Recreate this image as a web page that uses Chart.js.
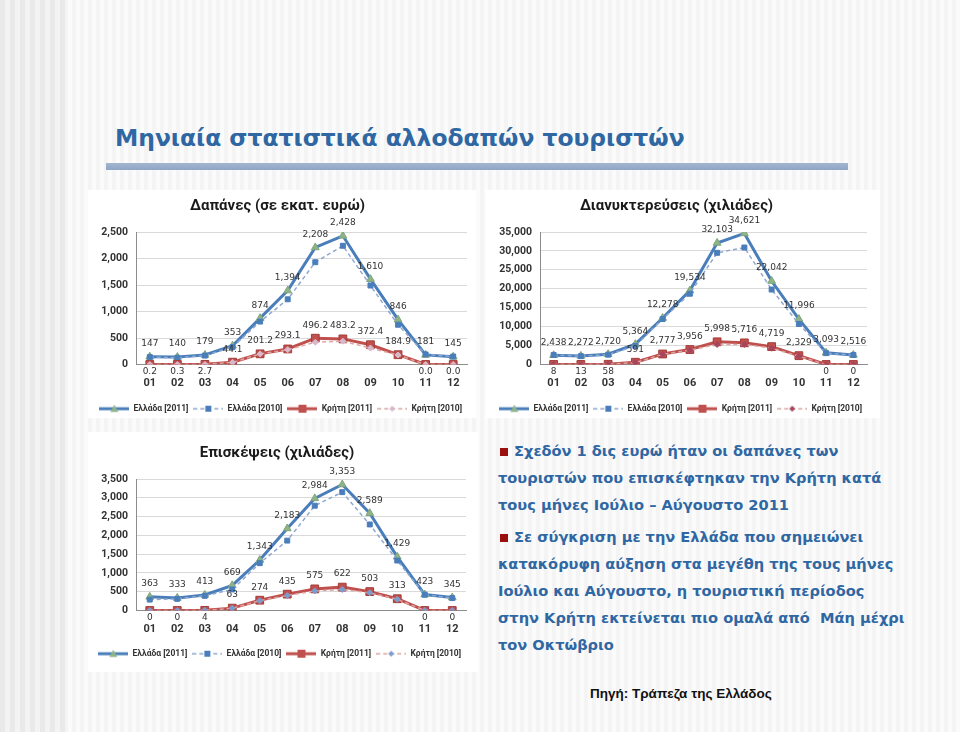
<!DOCTYPE html>
<html>
<head>
<meta charset="utf-8">
<script src="https://cdn.jsdelivr.net/npm/chart.js@4.4.1/dist/chart.umd.min.js"></script>
<style>
  body {
    margin: 0;
    width: 960px;
    height: 732px;
    overflow: hidden;
    position: relative;
    background: repeating-linear-gradient(90deg, #f4f4f4 0px, #f4f4f4 4px, #fbfbfb 4px, #fbfbfb 8px);
  }
  .leftband {
    position: absolute; left: 0; top: 0; width: 66px; height: 732px;
    background: repeating-linear-gradient(90deg, #e9e9e9 0px, #e9e9e9 5px, #f3f3f3 5px, #f3f3f3 10px);
  }
  .title {
    position: absolute; left: 115px; top: 123px;
    font: bold 23.4px "DejaVu Sans", sans-serif;
    color: #2f67a3; white-space: nowrap; line-height: 30px;
  }
  .bar {
    position: absolute; left: 106px; top: 163px; width: 742px; height: 7px;
    background: linear-gradient(#a3b6d0, #8ea5c5);
  }
  .panel { position: absolute; background: #fff; overflow: hidden; }
  .notes {
    position: absolute; left: 498px; top: 437px;
    font: bold 14.6px "DejaVu Sans", sans-serif;
    color: #2f67a3; line-height: 27px; white-space: nowrap;
  }
  .notes p { margin: 0 0 5px 0; }
  .sq { display: inline-block; width: 8px; height: 8px; background: #9b0f0f; margin: 0 6px 0 2px; }
  .src {
    position: absolute; left: 590px; top: 686px;
    font: bold 13.5px "Liberation Sans", Arial, sans-serif; color: #111;
  }
</style>
</head>
<body>
<div class="leftband"></div>
<div class="title">Μηνιαία στατιστικά αλλοδαπών τουριστών</div>
<div class="bar"></div>

<div class="panel" style="left:88px;top:190px;width:388px;height:228px"><canvas id="c1" width="388" height="228"></canvas></div>
<div class="panel" style="left:486px;top:190px;width:394px;height:228px"><canvas id="c2" width="394" height="228"></canvas></div>
<div class="panel" style="left:88px;top:432px;width:390px;height:240px"><canvas id="c3" width="390" height="240"></canvas></div>

<div class="notes">
  <p><span class="sq"></span>Σχεδόν 1 δις ευρώ ήταν οι δαπάνες των<br>τουριστών που επισκέφτηκαν την Κρήτη κατά<br>τους μήνες Ιούλιο – Αύγουστο 2011</p>
  <p><span class="sq"></span>Σε σύγκριση με την Ελλάδα που σημειώνει<br>κατακόρυφη αύξηση στα μεγέθη της τους μήνες<br>Ιούλιο και Αύγουστο, η τουριστική περίοδος<br>στην Κρήτη εκτείνεται πιο ομαλά από&nbsp; Μάη μέχρι<br>τον Οκτώβριο</p>
</div>
<div class="src">Πηγή: Τράπεζα της Ελλάδος</div>

<script>
// months
const months = ['01', '02', '03', '04', '05', '06', '07', '08', '09', '10', '11', '12'];
const seriesNames = ['Ελλάδα [2011]', 'Ελλάδα [2010]', 'Κρήτη [2011]', 'Κρήτη [2010]'];

// Δαπάνες (εκατ. ευρώ)
const spendGr2011 = [147, 140, 179, 353, 874, 1394, 2208, 2428, 1610, 846, 181, 145];
const spendGr2010 = [140, 128, 168, 330, 810, 1230, 1930, 2240, 1490, 750, 190, 150];
const spendCr2011 = [0.2, 0.3, 2.7, 44.1, 201.2, 293.1, 496.2, 483.2, 372.4, 184.9, 0.0, 0.0];
const spendCr2010 = [0, 0, 2, 40, 200, 280, 420, 440, 310, 180, 0, 0];

// Διανυκτερεύσεις (χιλιάδες)
const nightsGr2011 = [2438, 2272, 2720, 5364, 12278, 19534, 32103, 34621, 22042, 11996, 3093, 2516];
const nightsGr2010 = [2500, 2200, 2600, 4900, 12000, 18700, 29500, 30900, 19800, 10700, 3000, 2500];
const nightsCr2011 = [8, 13, 58, 591, 2777, 3956, 5998, 5716, 4719, 2329, 0, 0];
const nightsCr2010 = [0, 0, 50, 500, 2700, 3800, 5300, 5300, 4300, 2200, 0, 0];

// Επισκέψεις (χιλιάδες)
const visitsGr2011 = [363, 333, 413, 669, 1343, 2183, 2984, 3353, 2589, 1429, 423, 345];
const visitsGr2010 = [290, 310, 390, 560, 1260, 1860, 2790, 3150, 2290, 1330, 420, 330];
const visitsCr2011 = [0, 0, 4, 63, 274, 435, 575, 622, 503, 313, 0, 0];
const visitsCr2010 = [0, 0, 4, 60, 260, 400, 520, 560, 470, 300, 0, 0];

const BLUE = '#4a7ebb';
const RED = '#c0504d';
const ICON_W = 30;

// small legend sample: line with marker in the middle
function legendIcon(color, width, dash, marker, fill, r) {
    const c = document.createElement('canvas');
    c.width = ICON_W; c.height = 12;
    const g = c.getContext('2d');
    const m = ICON_W / 2;
    g.strokeStyle = color; g.lineWidth = width; g.setLineDash(dash);
    g.beginPath(); g.moveTo(0, 6); g.lineTo(ICON_W, 6); g.stroke();
    g.setLineDash([]);
    g.fillStyle = fill;
    g.beginPath();
    if (marker === 'triangle') { g.moveTo(m, 6 - r); g.lineTo(m + r, 6 + r * 0.8); g.lineTo(m - r, 6 + r * 0.8); }
    else if (marker === 'rect') { g.rect(m - r, 6 - r, 2 * r, 2 * r); }
    else { g.moveTo(m, 6 - r); g.lineTo(m + r, 6); g.lineTo(m, 6 + r); g.lineTo(m - r, 6); }
    g.closePath(); g.fill();
    return c;
}

const valueLabels = {
    id: 'valueLabels',
    afterDatasetsDraw(chart, args, opts) {
        const ctx = chart.ctx;
        const max = chart.scales.y.max;
        ctx.save();
        ctx.font = '9px "DejaVu Sans", sans-serif';
        ctx.fillStyle = '#333';
        ctx.textAlign = 'center';
        ctx.textBaseline = 'middle';
        [0, 2].forEach(di => {
            const meta = chart.getDatasetMeta(di);
            const vals = chart.data.datasets[di].data;
            meta.data.forEach((pt, i) => {
                const v = vals[i];
                const below = di === 2 && v < max * 0.01;
                const txt = (di === 2 && opts.decimals) ? v.toFixed(1) : v.toLocaleString('en-US');
                ctx.fillText(txt, pt.x, below ? pt.y + 7 : pt.y - 13);
            });
        });
        ctx.restore();
    }
};

function makeChart(id, title, series, yMax, yStep, axisW, crMarker, decimals, pad) {
    const icons = [
        legendIcon(BLUE, 3, [], 'triangle', '#8fb487', 4),
        legendIcon('#8ea8d0', 1.5, [4, 3], 'rect', BLUE, 3),
        legendIcon(RED, 3, [], 'rect', RED, 4),
        legendIcon('#dca6a4', 1.5, [4, 3], 'diamond', crMarker, 3)
    ];
    return new Chart(document.getElementById(id), {
        type: 'line',
        data: {
            labels: months,
            datasets: [{
                label: seriesNames[0], data: series[0], order: 4,
                borderColor: BLUE, borderWidth: 3, pointStyle: 'triangle',
                pointRadius: 4.5, pointBackgroundColor: '#8fb487', pointBorderColor: '#7ea57a', pointBorderWidth: 1
            }, {
                label: seriesNames[1], data: series[1], order: 3,
                borderColor: '#8ea8d0', borderWidth: 1.5, borderDash: [4, 3], pointStyle: 'rect',
                pointRadius: 3.5, pointBackgroundColor: BLUE, pointBorderColor: BLUE, pointBorderWidth: 1
            }, {
                label: seriesNames[2], data: series[2], order: 2,
                borderColor: RED, borderWidth: 3, pointStyle: 'rect',
                pointRadius: 5.5, pointBackgroundColor: RED, pointBorderColor: '#a33c39', pointBorderWidth: 1
            }, {
                label: seriesNames[3], data: series[3], order: 1,
                borderColor: '#dca6a4', borderWidth: 1.5, borderDash: [4, 3], pointStyle: 'rectRot',
                pointRadius: 3, pointBackgroundColor: crMarker, pointBorderColor: crMarker, pointBorderWidth: 1
            }]
        },
        options: {
            responsive: false,
            animation: false,
            devicePixelRatio: 1,
            layout: { padding: pad.layout },
            scales: {
                x: {
                    offset: true,
                    afterFit(scale) { scale.height = pad.xHeight; },
                    grid: { display: false, drawTicks: false },
                    border: { color: '#8c8c8c' },
                    ticks: { padding: pad.xTick, color: '#333', font: { family: 'Roboto', size: 11, weight: 'bold' } }
                },
                y: {
                    min: 0, max: yMax,
                    afterFit(scale) { scale.width = axisW; },
                    grid: { color: '#d9d9d9', drawTicks: false },
                    border: { color: '#8c8c8c' },
                    ticks: {
                        stepSize: yStep, padding: 8, color: '#333', autoSkip: false,
                        font: { family: 'Roboto', size: 10.5, weight: 'bold' },
                        callback: v => v.toLocaleString('en-US')
                    }
                }
            },
            plugins: {
                title: {
                    display: true, text: title, color: '#1a1a1a',
                    font: { family: 'Roboto', size: 15, weight: 'bold' },
                    padding: pad.title
                },
                legend: {
                    position: 'bottom',
                    align: 'end',
                    labels: {
                        usePointStyle: true, pointStyleWidth: ICON_W, padding: 5,
                        color: '#333', font: { family: 'Roboto', size: 8.5, weight: 'bold' },
                        sort: (a, b) => a.datasetIndex - b.datasetIndex,
                        generateLabels(chart) {
                            const items = Chart.defaults.plugins.legend.labels.generateLabels(chart);
                            items.forEach(it => { it.pointStyle = icons[it.datasetIndex]; });
                            return items;
                        }
                    }
                },
                tooltip: { enabled: false },
                valueLabels: { decimals: decimals }
            }
        },
        plugins: [valueLabels]
    });
}

makeChart('c1', 'Δαπάνες (σε εκατ. ευρώ)',
    [spendGr2011, spendGr2010, spendCr2011, spendCr2010], 2500, 500, 48, '#d9b8cc', true,
    { layout: { left: 0, right: 9, top: 0, bottom: -5 }, title: { top: 7, bottom: 17 }, xTick: 12.5, xHeight: 35 });

makeChart('c2', 'Διανυκτερεύσεις (χιλιάδες)',
    [nightsGr2011, nightsGr2010, nightsCr2011, nightsCr2010], 35000, 5000, 54, '#a5465e', false,
    { layout: { left: 0, right: 13, top: 0, bottom: -5 }, title: { top: 7, bottom: 17 }, xTick: 12.5, xHeight: 35 });

makeChart('c3', 'Επισκέψεις (χιλιάδες)',
    [visitsGr2011, visitsGr2010, visitsCr2011, visitsCr2010], 3500, 500, 48, '#7c9ccc', false,
    { layout: { left: 0, right: 12, top: 0, bottom: 4 }, title: { top: 12, bottom: 17 }, xTick: 12.5, xHeight: 34 });
</script>
</body>
</html>
